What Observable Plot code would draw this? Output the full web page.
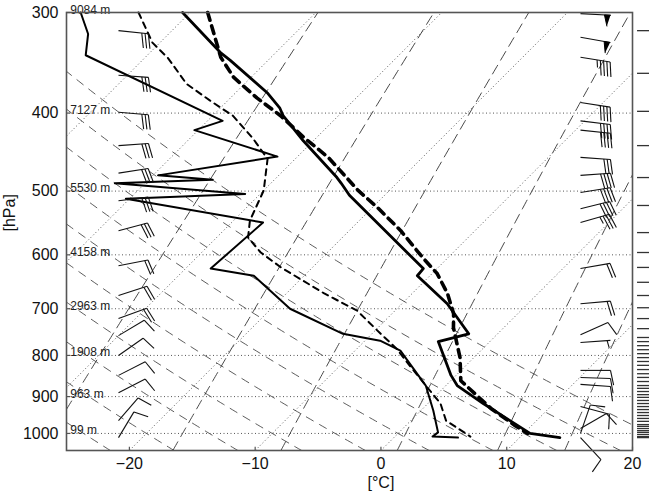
<!DOCTYPE html>
<html><head><meta charset="utf-8">
<script src="https://cdn.jsdelivr.net/npm/d3@7"></script>
<script src="https://cdn.jsdelivr.net/npm/@observablehq/plot@0.6"></script>
<style>html,body{margin:0;padding:0;background:#fff;} svg{display:block}</style>
</head><body><div id="chart"></div>
<script>
// ---------- data (pressure hPa, temperature °C) ----------
const t1P = [300, 337, 344, 378, 394, 403, 433, 481, 489, 506, 624, 637, 690, 752, 769, 847, 872, 918, 1000, 1012];
const t1T = [-50.6, -44.3, -43.0, -37.4, -35.3, -34.4, -30.8, -25.2, -24.4, -22.8, -11.1, -11.0, -6.4, -2.3, -4.1, -0.4, 0.9, 4.4, 10.5, 13.2];
const d1P = [300, 319, 339, 409, 420, 453, 478, 484, 489, 504, 511, 547, 624, 637, 700, 752, 767, 789, 872, 937, 997, 1009, 1012];
const d1T = [-58.7, -56.4, -54.9, -38.8, -40.3, -31.6, -39.6, -34.9, -42.4, -31.2, -40.3, -27.5, -28.0, -24.0, -18.5, -12.3, -8.8, -6.4, -1.6, 1.0, 3.1, 3.0, 5.1];
const t2P = [300, 341, 361, 383, 403, 429, 454, 499, 524, 560, 605, 633, 670, 710, 739, 805, 860, 931, 978, 1000];
const t2T = [-48.6, -44.0, -41.4, -37.9, -34.6, -31.0, -27.5, -22.5, -19.6, -15.9, -12.0, -9.6, -7.2, -5.1, -4.0, -1.1, 0.8, 5.4, 8.7, 10.3];
const d2P = [300, 327, 342, 368, 386, 403, 430, 456, 499, 544, 571, 596, 622, 670, 704, 752, 784, 828, 872, 918, 964, 986, 1009];
const d2T = [-54.1, -50.6, -48.1, -44.6, -41.4, -38.4, -35.0, -32.2, -30.0, -28.7, -27.5, -25.3, -22.5, -17.0, -13.0, -9.3, -6.9, -4.2, -1.6, 1.0, 2.8, 4.4, 6.0];

// wind barbs: pressure, speed (kt), direction (deg)
const leftBarbP = [316, 359, 399, 439, 475, 514, 560, 619, 674, 720, 756, 800, 847, 890, 964, 1012];
const leftBarbS = [30, 30, 30, 30, 30, 30, 30, 20, 20, 20, 10, 10, 10, 10, 10, 10];
const leftBarbD = [96, 94, 95, 86, 81, 83, 75, 79, 72, 70, 59, 55, 63, 63, 41, 31];
const rightBarbP = [301, 322, 341, 388, 409, 420, 454, 478, 502, 526, 547, 624, 690, 754, 771, 835, 852, 869, 926, 986, 1000, 1012];
const rightBarbS = [50, 50, 45, 40, 40, 40, 30, 40, 40, 40, 35, 20, 20, 10, 5, 10, 10, 10, 10, 10, 10, 10];
const rightBarbD = [93, 100, 99, 99, 97, 96, 94, 86, 81, 76, 74, 80, 85, 66, 86, 90, 92, 94, 105, 60, 19, 137];

// level marks on the right margin
const levelTicksP = [316, 357, 398, 439, 481, 521, 563, 596, 622, 649, 674, 698, 720, 741,
  760, 769, 778, 787, 796, 805, 814, 823, 833, 843, 852, 862, 872, 879, 887, 895, 902, 910,
  918, 926, 934, 942, 950, 958, 966, 975, 980, 986, 992, 997, 1003, 1009, 1012];

// height labels at standard levels
const heightP = [300, 400, 500, 600, 700, 800, 900, 1000];
const heightLabel = ["9084 m", "7127 m", "5530 m", "4158 m", "2963 m", "1908 m", "963 m", "99 m"];

// axes and background line families
const yTicks = [300, 400, 500, 600, 700, 800, 900, 1000];
const xTicks = [-20, -10, 0, 10, 20];
const isothermsC = [-100, -90, -80, -70, -60, -50, -40, -30, -20, -10, 0, 10, 20, 30];
const dryAdiabatsC = [-25, -20, -15, -10, -5, 0, 5, 10, 15, 20];
const mixingRatios = [0.4, 1, 2, 4, 7, 10];

// ---------- geometry ----------
const SKEW = 27.8;
const skewX = (T, p) => T + SKEW * Math.log(1050 / p);
const W = 649, H = 494, mL = 66, mR = 17, mT = 12, mB = 44;
const xs = d3.scaleLinear([-25, 20], [mL, W - mR]);
const ys = d3.scaleLog([1050, 300], [H - mB, mT]);
const samp = d3.range(1050, 299, -5);

const isoT = isothermsC.map(t => ({x1: t, x2: t + SKEW * Math.log(1050 / 300)}));
const dry = dryAdiabatsC.flatMap(th => samp.map(p => {
  const T = (th + 273.15) * Math.pow(p / 1000, 0.286) - 273.15;
  return {th, p, x: skewX(T, p)};
}));
const mix = mixingRatios.flatMap(w => samp.map(p => {
  const e = p * w / (622 + w);
  const l = Math.log(e / 6.112);
  const Td = 243.5 * l / (17.67 - l);
  return {w, p, x: skewX(Td, p)};
}));
const prof = (P, T) => P.map((p, i) => ({p, x: skewX(T[i], p)}));

// wind barbs
const L = 30, F = 15, SP = 3.3, ROT = 78;
function barbs(col, P, S, D) {
  const segs = [], tris = [];
  const inv = ([x, y]) => [xs.invert(x), ys.invert(y)];
  P.forEach((p, i) => {
    const bx = xs(col), by = ys(p);
    const a = (90 - D[i]) * Math.PI / 180;
    const ux = Math.cos(a), uy = -Math.sin(a);
    const fa = a - ROT * Math.PI / 180;
    const fx = Math.cos(fa), fy = -Math.sin(fa);
    const qa = a - Math.PI / 2, qx = Math.cos(qa), qy = -Math.sin(qa);
    const pt = s => [bx + s * ux, by + s * uy];
    segs.push([inv([bx, by]), inv(pt(L))]);
    let spd = Math.round(S[i] / 5) * 5, pos = L;
    while (spd >= 50) {
      const m = pt(pos - 3);
      tris.push([inv(pt(pos)), inv(pt(pos - 6)), inv([m[0] + qx * 11, m[1] + qy * 11])]);
      pos -= 8; spd -= 50;
    }
    while (spd >= 10) {
      const b = pt(pos);
      segs.push([inv(b), inv([b[0] + fx * F, b[1] + fy * F])]);
      pos -= SP; spd -= 10;
    }
    if (spd >= 5) {
      if (pos === L) pos -= SP;
      const b = pt(pos);
      segs.push([inv(b), inv([b[0] + fx * F / 2, b[1] + fy * F / 2])]);
    }
  });
  return {segs, tris};
}
const bL = barbs(xs.invert(118), leftBarbP, leftBarbS, leftBarbD);
const bR = barbs(xs.invert(580), rightBarbP, rightBarbS, rightBarbD);
const segs = bL.segs.concat(bR.segs);
const tris = bL.tris.concat(bR.tris).flatMap((t, k) => t.map(q => ({x: q[0], y: q[1], k})));

const grid = {stroke: "#333", strokeWidth: 0.8};
const chart = Plot.plot({
  width: W, height: H, marginLeft: mL, marginRight: mR, marginTop: mT, marginBottom: mB,
  x: {domain: [-25, 20], axis: null},
  y: {type: "log", domain: [1050, 300], axis: null},
  style: {fontFamily: "Liberation Sans, Arial, sans-serif", background: "#fff", overflow: "visible"},
  marks: [
    Plot.ruleY(yTicks.slice(1), {stroke: "#444", strokeWidth: 0.9, strokeDasharray: "1,2.5"}),
    Plot.link(isoT, {x1: "x1", y1: 1050, x2: "x2", y2: 300, stroke: "#444", strokeWidth: 0.9, strokeDasharray: "1,2.5", clip: true}),
    Plot.line(dry, {x: "x", y: "p", z: "th", ...grid, strokeDasharray: "8,7", clip: true}),
    Plot.line(mix, {x: "x", y: "p", z: "w", ...grid, strokeWidth: 0.9, strokeDasharray: "10,6", clip: true}),
    Plot.line(prof(d2P, d2T), {x: "x", y: "p", stroke: "#000", strokeWidth: 2, strokeDasharray: "6,5"}),
    Plot.line(prof(d1P, d1T), {x: "x", y: "p", stroke: "#000", strokeWidth: 2}),
    Plot.line(prof(t2P, t2T), {x: "x", y: "p", stroke: "#000", strokeWidth: 3.6, strokeDasharray: "8,6"}),
    Plot.line(prof(t1P, t1T), {x: "x", y: "p", stroke: "#000", strokeWidth: 2.8}),
    Plot.link(segs, {x1: d => d[0][0], y1: d => d[0][1], x2: d => d[1][0], y2: d => d[1][1], stroke: "#111", strokeWidth: 1.1}),
    Plot.line(tris, {x: "x", y: "y", z: "k", fill: "#000", stroke: "#000", strokeWidth: 1}),
    Plot.ruleY(levelTicksP, {x1: 20.4, x2: 21.5, stroke: "#333", strokeWidth: 1.3}),
    Plot.text(heightP.map((p, i) => ({p, t: heightLabel[i]})), {x: -24.7, y: "p", text: "t", textAnchor: "start", lineAnchor: "bottom", dy: 1, fontSize: 12, fill: "#222"}),
    Plot.ruleY(yTicks, {x1: -25, x2: -24.68, stroke: "#555", strokeWidth: 1.2}),
    Plot.ruleX(xTicks, {y1: 1050, y2: 1040, stroke: "#555", strokeWidth: 1.2}),
    Plot.frame({stroke: "#555", strokeWidth: 1.6}),
    Plot.text(yTicks, {y: d => d, frameAnchor: "left", textAnchor: "end", dx: -8, text: d => String(d), fontSize: 16, fill: "#111"}),
    Plot.text(xTicks, {x: d => d, frameAnchor: "bottom", lineAnchor: "top", dy: 7, text: d => d3.format("d")(d), fontSize: 16, fill: "#111"}),
    Plot.text(["[hPa]"], {frameAnchor: "left", dx: -57, rotate: -90, text: d => d, fontSize: 16, fill: "#111"}),
    Plot.text(["[°C]"], {x: 0, frameAnchor: "bottom", lineAnchor: "top", dy: 26, text: d => d, fontSize: 16, fill: "#111"})
  ]
});
document.getElementById("chart").appendChild(chart);
</script></body></html>
